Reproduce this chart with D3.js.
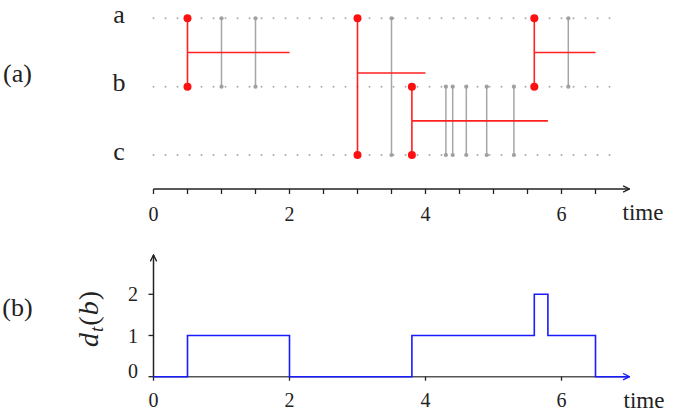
<!DOCTYPE html>
<html>
<head>
	<meta charset="utf-8">
	<script type="text/javascript" src="https://cdn.jsdelivr.net/npm/d3@7"></script>
	<style>
		body { margin: 0; background: #fff; }
		text { font-family: "Liberation Serif", "Times New Roman", serif; fill: #222; }
	</style>
</head>
<body>
	<script type="text/javascript">

	// nodes
	var rows = ["a", "b", "c"];

	// red interactions (start, nodes, end of the activity bar, bar level in row units)
	var redTimes = [0.5, 3.0, 3.8, 5.6];
	var redFrom = ["a", "a", "b", "a"];
	var redTo = ["b", "c", "c", "b"];
	var redEnd = [2.0, 4.0, 5.8, 6.5];
	var redLevel = [0.5, 0.8, 1.5, 0.5];

	// gray interactions
	var grayTimes = [1.0, 1.5, 3.5, 4.3, 4.4, 4.6, 4.9, 5.3, 6.1];
	var grayFrom = ["a", "a", "a", "b", "b", "b", "b", "b", "a"];
	var grayTo = ["b", "b", "c", "c", "c", "c", "c", "c", "b"];

	// degree of b over time (step after)
	var degTimes = [0, 0.5, 2.0, 3.8, 5.6, 5.8, 6.5, 7.0];
	var degValues = [0, 1, 0, 1, 2, 1, 0, 0];

	var timeTicks = [0, 2, 4, 6];
	var degTicks = [0, 1, 2];

	var widthSvg = 678;
	var heightSvg = 417;

	var svg = d3.select("body")
			.append("svg")
			.attr("width", widthSvg)
			.attr("height", heightSvg);

	var x = d3.scaleLinear().domain([0, 7]).range([153.5, 629.5]);
	var yRow = d3.scaleLinear().domain([0, 2]).range([18.3, 155]);
	var rowIdx = function(r) { return rows.indexOf(r); };

	var defs = svg.append("defs");
	function arrow(id, color) {
		defs.append("marker")
			.attr("id", id)
			.attr("viewBox", "0 0 10 10")
			.attr("refX", 9).attr("refY", 5)
			.attr("markerWidth", 8).attr("markerHeight", 8)
			.attr("markerUnits", "userSpaceOnUse")
			.attr("orient", "auto")
			.append("path")
			.attr("d", "M1,1 L9,5 L1,9")
			.attr("fill", "none")
			.attr("stroke", color)
			.attr("stroke-width", 1.7);
	}
	arrow("arrK", "#222");
	arrow("arrB", "#1a1aff");

	// ---------- (a) ----------
	var gA = svg.append("g");

	gA.selectAll(".rowline")
		.data(rows)
		.enter()
		.append("line")
		.attr("x1", x(0)).attr("x2", x(6.88))
		.attr("y1", function(d, i) { return yRow(i); })
		.attr("y2", function(d, i) { return yRow(i); })
		.attr("stroke", "#ababab")
		.attr("stroke-width", 2)
		.attr("stroke-linecap", "round")
		.attr("stroke-dasharray", "0,12");

	gA.selectAll(".rowlabel")
		.data(rows)
		.enter()
		.append("text")
		.attr("x", 119)
		.attr("y", function(d, i) { return yRow(i) + 4.5; })
		.attr("text-anchor", "middle")
		.attr("font-size", 26)
		.text(function(d) { return d; });

	// gray interactions
	var grays = grayTimes.map(function(t, i) { return { t: t, a: rowIdx(grayFrom[i]), b: rowIdx(grayTo[i]) }; });
	gA.selectAll(".gline")
		.data(grays)
		.enter()
		.append("line")
		.attr("x1", function(d) { return x(d.t); })
		.attr("x2", function(d) { return x(d.t); })
		.attr("y1", function(d) { return yRow(d.a); })
		.attr("y2", function(d) { return yRow(d.b); })
		.attr("stroke", "#a6a6a6")
		.attr("stroke-width", 1.5);
	grays.forEach(function(d) {
		[d.a, d.b].forEach(function(r) {
			gA.append("circle")
				.attr("cx", x(d.t)).attr("cy", yRow(r))
				.attr("r", 2.1)
				.attr("fill", "#a0a0a0");
		});
	});

	// red interactions
	var reds = redTimes.map(function(t, i) {
		return { t: t, a: rowIdx(redFrom[i]), b: rowIdx(redTo[i]), end: redEnd[i], lvl: redLevel[i] };
	});
	gA.selectAll(".rline")
		.data(reds)
		.enter()
		.append("line")
		.attr("x1", function(d) { return x(d.t); })
		.attr("x2", function(d) { return x(d.t); })
		.attr("y1", function(d) { return yRow(d.a); })
		.attr("y2", function(d) { return yRow(d.b); })
		.attr("stroke", "#ff2020")
		.attr("stroke-width", 1.6);
	gA.selectAll(".rbar")
		.data(reds)
		.enter()
		.append("line")
		.attr("x1", function(d) { return x(d.t); })
		.attr("x2", function(d) { return x(d.end); })
		.attr("y1", function(d) { return yRow(d.lvl); })
		.attr("y2", function(d) { return yRow(d.lvl); })
		.attr("stroke", "#ff2020")
		.attr("stroke-width", 1.6);
	reds.forEach(function(d) {
		[d.a, d.b].forEach(function(r) {
			gA.append("circle")
				.attr("cx", x(d.t)).attr("cy", yRow(r))
				.attr("r", 4)
				.attr("fill", "#ff1010");
		});
	});

	// time axis (a)
	var axY = 189;
	gA.append("line")
		.attr("x1", x(0)).attr("x2", x(7))
		.attr("y1", axY).attr("y2", axY)
		.attr("stroke", "#222").attr("stroke-width", 1.5)
		.attr("marker-end", "url(#arrK)");
	gA.selectAll(".tick")
		.data(d3.range(0, 7, 0.5))
		.enter()
		.append("line")
		.attr("x1", function(d) { return x(d); })
		.attr("x2", function(d) { return x(d); })
		.attr("y1", axY).attr("y2", axY + 5)
		.attr("stroke", "#222").attr("stroke-width", 1.3);
	gA.selectAll(".tlab")
		.data(timeTicks)
		.enter()
		.append("text")
		.attr("x", function(d) { return x(d); })
		.attr("y", 221)
		.attr("text-anchor", "middle")
		.attr("font-size", 20)
		.text(function(d) { return d; });
	gA.append("text").attr("x", 643).attr("y", 220).attr("text-anchor", "middle")
		.attr("font-size", 23).text("time");
	gA.append("text").attr("x", 17.5).attr("y", 82).attr("text-anchor", "middle")
		.attr("font-size", 26).text("(a)");

	// ---------- (b) ----------
	var gB = svg.append("g");
	var yDeg = d3.scaleLinear().domain([0, 2]).range([376.7, 294.3]);
	var base = yDeg(0);

	gB.append("line")
		.attr("x1", x(0)).attr("x2", x(7))
		.attr("y1", base).attr("y2", base)
		.attr("stroke", "#555").attr("stroke-width", 1.5);
	gB.append("line")
		.attr("x1", x(0)).attr("x2", x(0))
		.attr("y1", base).attr("y2", 255)
		.attr("stroke", "#222").attr("stroke-width", 1.5)
		.attr("marker-end", "url(#arrK)");
	gB.selectAll(".xt")
		.data(timeTicks)
		.enter()
		.append("line")
		.attr("x1", function(d) { return x(d); })
		.attr("x2", function(d) { return x(d); })
		.attr("y1", base).attr("y2", base + 4)
		.attr("stroke", "#222").attr("stroke-width", 1.3);
	gB.selectAll(".yt")
		.data(degTicks)
		.enter()
		.append("line")
		.attr("x1", x(0) - 5).attr("x2", x(0))
		.attr("y1", function(d) { return yDeg(d); })
		.attr("y2", function(d) { return yDeg(d); })
		.attr("stroke", "#222").attr("stroke-width", 1.3);
	gB.selectAll(".xlab")
		.data(timeTicks)
		.enter()
		.append("text")
		.attr("x", function(d) { return x(d); })
		.attr("y", 407)
		.attr("text-anchor", "middle")
		.attr("font-size", 20)
		.text(function(d) { return d; });
	gB.selectAll(".ylab")
		.data(degTicks)
		.enter()
		.append("text")
		.attr("x", 133)
		.attr("y", function(d) { return yDeg(d) + (d === 0 ? 1 : 7); })
		.attr("text-anchor", "middle")
		.attr("font-size", 20)
		.text(function(d) { return d; });
	gB.append("text").attr("x", 644).attr("y", 408).attr("text-anchor", "middle")
		.attr("font-size", 23).text("time");
	gB.append("text").attr("x", 17.5).attr("y", 316).attr("text-anchor", "middle")
		.attr("font-size", 26).text("(b)");

	var yl = gB.append("text")
		.attr("transform", "translate(97.5,319) rotate(-90)")
		.attr("text-anchor", "middle")
		.attr("font-size", 28);
	yl.append("tspan").attr("font-style", "italic").text("d");
	yl.append("tspan").attr("font-style", "italic").attr("font-size", 19).attr("dx", 1).attr("dy", 5).text("t");
	yl.append("tspan").attr("dx", 1).attr("dy", -5).text("(");
	yl.append("tspan").attr("font-style", "italic").attr("dx", 1).text("b");
	yl.append("tspan").attr("dx", 1).text(")");

	var line = d3.line()
		.x(function(d) { return x(d[0]); })
		.y(function(d) { return yDeg(d[1]); })
		.curve(d3.curveStepAfter);
	gB.append("path")
		.datum(degTimes.map(function(t, i) { return [t, degValues[i]]; }))
		.attr("d", line)
		.attr("fill", "none")
		.attr("stroke", "#1a1aff")
		.attr("stroke-width", 1.6)
		.attr("marker-end", "url(#arrB)");

	</script>
</body>
</html>
